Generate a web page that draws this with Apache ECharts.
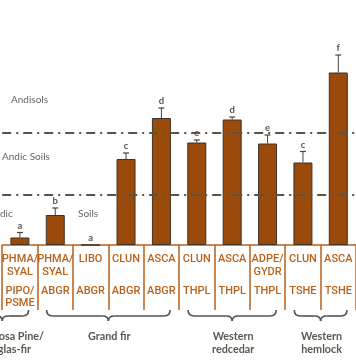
<!DOCTYPE html>
<html><head><meta charset="utf-8">
<script src="https://cdn.jsdelivr.net/npm/echarts@6/dist/echarts.min.js"></script>
<style>html,body{margin:0;padding:0;background:#fff}#c{width:356px;height:364px}</style>
</head><body><div id="c"></div>
<script>
const understory = ['PHMA/\nSYAL','PHMA/\nSYAL','LIBO','CLUN','ASCA','CLUN','ASCA','ADPE/\nGYDR','CLUN','ASCA'];
const overstory = ['PIPO/\nPSME','ABGR','ABGR','ABGR','ABGR','THPL','THPL','THPL','TSHE','TSHE'];
const values = [0.15, 0.60, 0, 1.72, 2.54, 2.05, 2.51, 2.03, 1.65, 3.45];
const errTop = [0.25, 0.74, 0, 1.84, 2.74, 2.10, 2.56, 2.20, 1.87, 3.80];
const letters = ['a','b','a','c','d','e','d','e','c','f'];
const thresholds = [1.0, 2.25];
const zoneLabels = ['Andisols','Andic Soils','dic','Soils'];
const groups = [
  {name:'Ponderosa Pine/\nDouglas-fir', from:-1, to:0},
  {name:'Grand fir', from:1, to:4},
  {name:'Western\nredcedar', from:5, to:7},
  {name:'Western\nhemlock', from:8, to:9}
];
const keys = understory.map((u,i)=>u+' '+overstory[i]);

const brown = '#B8621B';
const chart = echarts.init(document.getElementById('c'));
chart.setOption({
  animation:false,
  grid:{left:-3, right:-18, top:0, bottom:119, containLabel:false},
  xAxis:[{
    type:'category', data:keys, position:'bottom',
    axisLine:{show:true, lineStyle:{color:brown, width:1.5}},
    axisTick:{show:true, interval:0, length:65, lineStyle:{color:brown, width:1.5}},
    axisLabel:{interval:0, margin:8, color:brown, fontFamily:'Roboto', fontSize:11, fontWeight:500, lineHeight:13, verticalAlign:'top',
      formatter:(v,i)=>understory[i]}
  },{
    type:'category', data:keys, position:'bottom',
    axisLine:{show:false}, axisTick:{show:false},
    axisLabel:{interval:0, margin:40, color:brown, fontFamily:'Roboto', fontSize:11, fontWeight:500, lineHeight:12, verticalAlign:'top',
      formatter:(v,i)=>overstory[i]}
  }],
  yAxis:{type:'value', min:0, max:4.9, show:false},
  series:[{
    type:'bar', data:values, barWidth:19, xAxisIndex:0,
    itemStyle:{color:'#9A4A0A', borderColor:'#3d3326', borderWidth:1},
    markLine:{silent:true, symbol:'none', label:{show:false},
      lineStyle:{color:'#5a5244', width:2, type:[9,5,2,5]},
      data:thresholds.map(t=>({yAxis:t}))},
    z:2
  },{
    type:'custom', xAxisIndex:0,
    data:values.map((v,i)=>[i, v, errTop[i]]),
    renderItem:function(params, api){
      const i = api.value(0);
      const p0 = api.coord([i, api.value(1)]);
      const p1 = api.coord([i, api.value(2)]);
      const children = [];
      if (api.value(2) > api.value(1)) {
        children.push({type:'line', shape:{x1:p0[0], y1:p0[1], x2:p1[0], y2:p1[1]}, style:{stroke:'#4a4238', lineWidth:1}});
        children.push({type:'line', shape:{x1:p1[0]-3, y1:p1[1], x2:p1[0]+3, y2:p1[1]}, style:{stroke:'#4a4238', lineWidth:1.2}});
      }
      children.push({type:'text', style:{text:letters[params.dataIndex], x:p1[0], y:p1[1]-2,
        align:'center', verticalAlign:'bottom', font:'bold 9.5px Lato', fill:'#555'}});
      return {type:'group', children:children};
    },
    z:3
  }]
});

function drawDecor(){
  const cx = i => chart.convertToPixel({xAxisIndex:0}, i);
  const step = cx(1) - cx(0);
  const g = [];
  const y0 = 310, ym = 316, yp = 321;
  const st = {stroke:'#555049', lineWidth:1.6, fill:null};
  groups.forEach(gr=>{
    const x0c = cx(0) + gr.from*step;
    const x1c = cx(0) + gr.to*step;
    const x1 = x0c - step/2 + 9;
    const x2 = x1c + step/2 - 9;
    const xc = (x0c + x1c)/2;
    g.push({type:'bezierCurve', shape:{x1:x1, y1:y0, x2:x1+6, y2:ym, cpx1:x1, cpy1:ym}, style:st, silent:true});
    g.push({type:'line', shape:{x1:x1+6, y1:ym, x2:xc-6, y2:ym}, style:st, silent:true});
    g.push({type:'bezierCurve', shape:{x1:xc-6, y1:ym, x2:xc, y2:yp, cpx1:xc, cpy1:ym}, style:st, silent:true});
    g.push({type:'bezierCurve', shape:{x1:xc, y1:yp, x2:xc+6, y2:ym, cpx1:xc, cpy1:ym}, style:st, silent:true});
    g.push({type:'line', shape:{x1:xc+6, y1:ym, x2:x2-6, y2:ym}, style:st, silent:true});
    g.push({type:'bezierCurve', shape:{x1:x2-6, y1:ym, x2:x2, y2:y0, cpx1:x2, cpy1:ym}, style:st, silent:true});
    g.push({type:'text', x:xc + (gr.from < 0 ? 2 : 1), y:330, style:{text:gr.name, align:'center', verticalAlign:'top',
      font:'bold 10.8px Lato', lineHeight:13, fill:'#5b5850'}, silent:true});
  });
  const zonePos = [[11, 100],[2, 157],[0, 214],[78, 214]];
  zoneLabels.forEach((t,k)=>{
    g.push({type:'text', x:zonePos[k][0], y:zonePos[k][1], z:-1, style:{text:t, align:'left', verticalAlign:'middle',
      font:'10px Lato', fill:'#666'}, silent:true});
  });
  chart.setOption({graphic:g});
}
drawDecor();
</script></body></html>
